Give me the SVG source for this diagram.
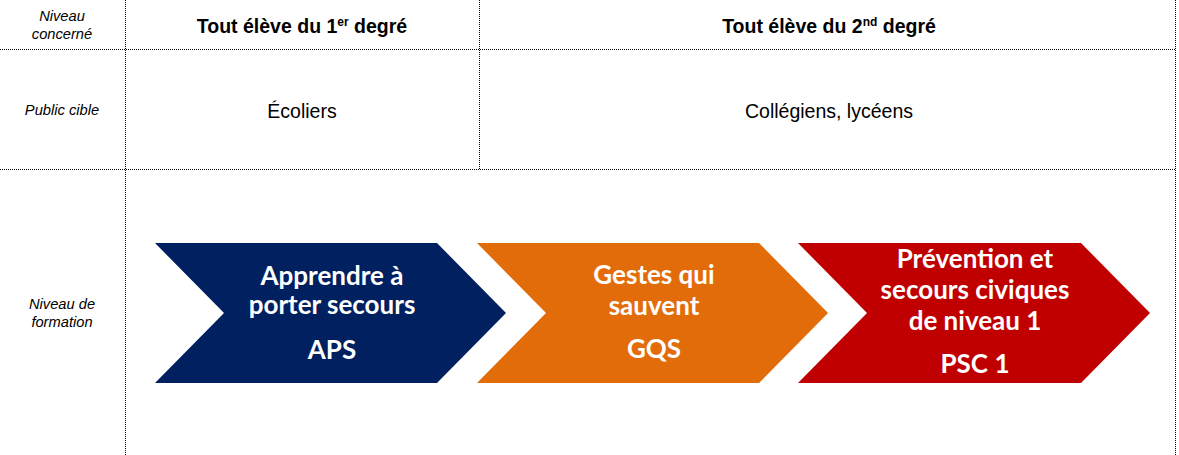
<svg xmlns="http://www.w3.org/2000/svg" width="1179" height="455" viewBox="0 0 1179 455">
<style>
.grid{stroke:#000;stroke-width:1;stroke-dasharray:1 1;fill:none}
.lab{font-family:"Liberation Sans",Arial,sans-serif;font-style:italic;font-size:14.7px;fill:#000;text-anchor:middle}
.hd{font-family:"Liberation Sans",Arial,sans-serif;font-weight:bold;font-size:19.5px;fill:#000;text-anchor:middle}
.pub{font-family:"Liberation Sans",Arial,sans-serif;font-size:19.5px;fill:#000;text-anchor:middle}
.ch{font-family:Lato,"Open Sans",sans-serif;font-weight:bold;font-size:26px;fill:#fff;text-anchor:middle}
</style>
<rect width="1179" height="455" fill="#fff"/>
<g id="grid">
<line class="grid" x1="0" y1="49.5" x2="1176" y2="49.5"/>
<line class="grid" x1="0" y1="169.5" x2="1176" y2="169.5"/>
<line class="grid" x1="125.5" y1="0" x2="125.5" y2="455"/>
<line class="grid" x1="479.5" y1="0" x2="479.5" y2="170"/>
<line class="grid" x1="1175.5" y1="0" x2="1175.5" y2="455"/>
</g>
<g id="labels">
<text class="lab" x="62" y="21">Niveau</text>
<text class="lab" x="62" y="39">concerné</text>
<text class="lab" x="62" y="115">Public cible</text>
<text class="lab" x="62" y="309">Niveau de</text>
<text class="lab" x="62" y="327">formation</text>
</g>
<g id="headers">
<text class="hd" x="302" y="32.5">Tout élève du 1<tspan font-size="12" dy="-7">er</tspan><tspan dy="7"> degré</tspan></text>
<text class="hd" x="829" y="32.5">Tout élève du 2<tspan font-size="12" dy="-7">nd</tspan><tspan dy="7"> degré</tspan></text>
<text class="pub" x="302" y="118">Écoliers</text>
<text class="pub" x="829" y="118">Collégiens, lycéens</text>
</g>
<g id="aps">
<polygon points="155,243 437,243 506,313 437,383 155,383 224,313" fill="#002060"/>
<text class="ch" x="332" y="285">Apprendre à</text>
<text class="ch" x="332" y="314">porter secours</text>
<text class="ch" x="332" y="359">APS</text>
</g>
<g id="gqs">
<polygon points="477,243 759,243 828,313 759,383 477,383 546,313" fill="#E36C0A"/>
<text class="ch" x="654" y="284">Gestes qui</text>
<text class="ch" x="654" y="315">sauvent</text>
<text class="ch" x="654" y="358">GQS</text>
</g>
<g id="psc1">
<polygon points="798,243 1081,243 1150,313 1081,383 798,383 867,313" fill="#C00000"/>
<text class="ch" x="975" y="268">Prévention et</text>
<text class="ch" x="975" y="299">secours civiques</text>
<text class="ch" x="975" y="330">de niveau 1</text>
<text class="ch" x="975" y="373">PSC 1</text>
</g>
</svg>
